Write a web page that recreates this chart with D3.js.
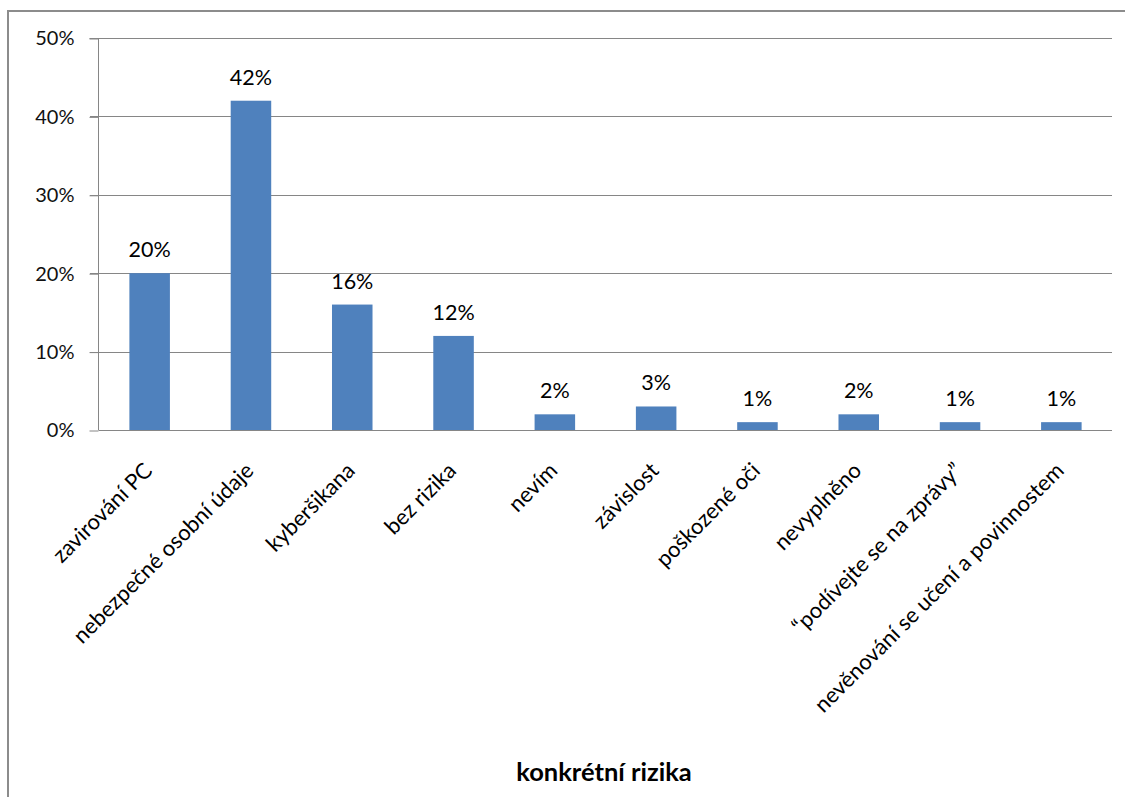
<!DOCTYPE html>
<html><head><meta charset="utf-8">
<script src="https://cdn.jsdelivr.net/npm/d3@7"></script>
<style>
html,body{margin:0;padding:0;background:#fff;overflow:hidden;}
svg{display:block;}
</style>
</head><body>
<svg id="chart" width="1125" height="797"></svg>
<script>
const categories = ["zavirování PC","nebezpečné osobní údaje","kyberšikana","bez rizika","nevím","závislost","poškozené oči","nevyplněno","“podívejte se na zprávy”","nevěnování se učení a povinnostem"];
const values = [20,42,16,12,2,3,1,2,1,1];
const valueLabels = ["20%","42%","16%","12%","2%","3%","1%","2%","1%","1%"];
const yTicks = [0,10,20,30,40,50];
const yTickLabels = ["0%","10%","20%","30%","40%","50%"];
const axisTitle = "konkrétní rizika";

const svg = d3.select("#chart");
const font = "Lato, 'Liberation Sans', sans-serif";
const margin = {left:99, right:13, top:38, bottom:367};
const W = 1125, H = 797;

// outer border
svg.append("rect").attr("x",8).attr("y",11).attr("width",1130).attr("height",800)
  .attr("fill","none").attr("stroke","#8c8c8c").attr("stroke-width",2);

const x = d3.scaleBand().domain(categories).range([margin.left, W - margin.right])
  .paddingInner(0.6).paddingOuter(0.3);
const y = d3.scaleLinear().domain([0,50]).range([H - margin.bottom, margin.top]);

// gridlines
svg.append("g").selectAll("line").data(yTicks.filter(d=>d>0)).join("line")
  .attr("x1", margin.left - 9).attr("x2", W - margin.right)
  .attr("y1", d=>Math.round(y(d))+0.5).attr("y2", d=>Math.round(y(d))+0.5)
  .attr("stroke","#868686").attr("stroke-width",1);

// y axis
const yAxis = d3.axisLeft(y).tickValues(yTicks).tickSize(9).tickPadding(15)
  .tickFormat((d,i)=>yTickLabels[i]);
const gy = svg.append("g").attr("transform",`translate(${margin.left-0.5},0.5)`).call(yAxis);
gy.select(".domain").attr("stroke","#868686").attr("d",`M-9,${Math.round(y(50))}H0V${Math.round(y(0))}`);
gy.selectAll(".tick line").attr("stroke","#868686");
gy.selectAll(".tick text").attr("font-family",font).attr("font-size",20).attr("fill","#111");

// bars
svg.append("g").selectAll("rect").data(values).join("rect")
  .attr("x",(d,i)=>x(categories[i])).attr("width",x.bandwidth())
  .attr("y",d=>y(d)).attr("height",d=>y(0)-y(d)).attr("fill","#4F81BD");

// value labels
svg.append("g").selectAll("text").data(values).join("text")
  .attr("x",(d,i)=>x(categories[i])+x.bandwidth()/2).attr("y",d=>y(d)-16)
  .attr("text-anchor","middle").attr("font-family",font).attr("font-size",21.5).attr("fill","#000")
  .text((d,i)=>valueLabels[i]);

// x axis line
svg.append("line").attr("x1",margin.left).attr("x2",W-margin.right)
  .attr("y1",Math.round(y(0))+0.5).attr("y2",Math.round(y(0))+0.5)
  .attr("stroke","#868686").attr("stroke-width",1);

// category labels
svg.append("g").selectAll("text").data(categories).join("text")
  .attr("transform",d=>`translate(${x(d)+x.bandwidth()/2+4},${y(0)+42}) rotate(-45)`)
  .attr("text-anchor","end").attr("font-family",font).attr("font-size",22).attr("fill","#000")
  .text(d=>d);

// axis title
svg.append("text").attr("x",604).attr("y",781).attr("text-anchor","middle")
  .attr("font-family",font).attr("font-size",25.5).attr("font-weight","bold").attr("fill","#000")
  .text(axisTitle);
</script>
</body></html>
